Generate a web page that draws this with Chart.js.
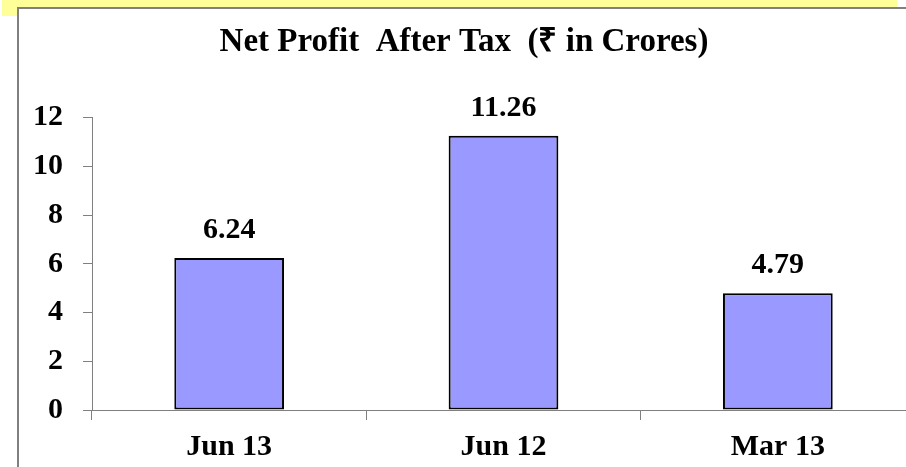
<!DOCTYPE html>
<html>
<head>
<meta charset="utf-8">
<script src="https://cdn.jsdelivr.net/npm/chart.js@4"></script>
<style>
  html, body { margin: 0; padding: 0; width: 906px; height: 467px; overflow: hidden; background: #fff; }
  #strip { position: absolute; left: 2px; top: 0; width: 895px; height: 16px; background: #ffff99; }
  #box { position: absolute; left: 17px; top: 7px; width: 920px; height: 480px; background: #fff;
         border-top: 2px solid #808080; border-left: 2px solid #808080; }
  #grafico { position: absolute; left: 0; top: 0; }
</style>
</head>
<body>
<div id="strip"></div>
<div id="box"></div>
<canvas id="grafico" width="930" height="467"></canvas>
<script>
// --=| dados do gráfico
const categorias = ["Jun 13", "Jun 12", "Mar 13"];
const lucro = [6.24, 11.26, 4.79];
const titulo = "Net Profit  After Tax  (\u20B9 in Crores)";

const fonte = "'Palatino Linotype', 'Book Antiqua', Palatino, 'Liberation Serif', serif";

// rótulos com o valor acima de cada barra
const rotulosValor = {
  id: "rotulosValor",
  afterDatasetsDraw(chart) {
    const ctx = chart.ctx;
    const meta = chart.getDatasetMeta(0);
    ctx.save();
    ctx.font = "bold 30px " + fonte;
    ctx.fillStyle = "#000";
    ctx.textAlign = "center";
    ctx.textBaseline = "alphabetic";
    meta.data.forEach((barra, i) => {
      ctx.fillText(lucro[i].toFixed(2), barra.x, barra.y - 20);
    });
    ctx.restore();
  },
};

const grafico = new Chart(document.getElementById("grafico"), {
  type: "bar",
  data: {
    labels: categorias,
    datasets: [
      {
        data: lucro,
        backgroundColor: "#9999ff",
        borderColor: "#000",
        borderWidth: 2,
        borderSkipped: false,
        barPercentage: 0.4,
        categoryPercentage: 1,
      },
    ],
  },
  options: {
    responsive: false,
    animation: false,
    layout: { padding: { left: 13, right: 15, top: 0, bottom: 0 } },
    plugins: {
      legend: { display: false },
      tooltip: { enabled: false },
      title: {
        display: true,
        text: titulo,
        color: "#000",
        font: { family: fonte, size: 33, weight: "bold" },
        padding: { top: 23, bottom: 55 },
      },
    },
    scales: {
      x: {
        grid: { drawOnChartArea: false, tickLength: 10, color: "#808080" },
        border: { color: "#808080", width: 1 },
        ticks: { color: "#000", padding: 9, font: { family: fonte, size: 30, weight: "bold" } },
        afterFit(escala) { escala.height = 57; },
      },
      y: {
        min: 0,
        max: 12,
        ticks: { stepSize: 2, color: "#000", padding: 20, font: { family: fonte, size: 30, weight: "bold" } },
        grid: { drawOnChartArea: false, tickLength: 9, color: "#808080" },
        border: { color: "#808080", width: 1 },
        afterFit(escala) { escala.width = 79; },
      },
    },
  },
  plugins: [rotulosValor],
});
</script>
</body>
</html>
